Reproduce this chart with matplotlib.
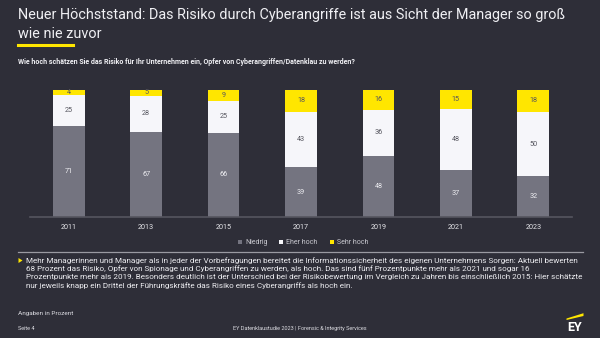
import matplotlib
matplotlib.use("Agg")
import matplotlib.pyplot as plt
from matplotlib.patches import Polygon
from matplotlib.lines import Line2D

years = ["2011", "2013", "2015", "2017", "2019", "2021", "2023"]
niedrig = [71, 67, 66, 39, 48, 37, 32]
eher_hoch = [25, 28, 25, 43, 36, 48, 50]
sehr_hoch = [4, 5, 9, 18, 16, 15, 18]
series_names = ["Niedrig", "Eher hoch", "Sehr hoch"]

title_lines = ["Neuer Höchststand: Das Risiko durch Cyberangriffe ist aus Sicht der Manager so groß",
               "wie nie zuvor"]
subtitle = "Wie hoch schätzen Sie das Risiko für Ihr Unternehmen ein, Opfer von Cyberangriffen/Datenklau zu werden?"
body_lines = [
    "Mehr Managerinnen und Manager als in jeder der Vorbefragungen bereitet die Informationssicherheit des eigenen Unternehmens Sorgen: Aktuell bewerten",
    "68 Prozent das Risiko, Opfer von Spionage und Cyberangriffen zu werden, als hoch. Das sind fünf Prozentpunkte mehr als 2021 und sogar 16",
    "Prozentpunkte mehr als 2019. Besonders deutlich ist der Unterschied bei der Risikobewertung im Vergleich zu Jahren bis einschließlich 2015: Hier schätzte",
    "nur jeweils knapp ein Drittel der Führungskräfte das Risiko eines Cyberangriffs als hoch ein.",
]
note = "Angaben in Prozent"
page = "Seite 4"
footer = "EY Datenklaustudie 2023 | Forensic & Integrity Services"

BG = "#2e2e38"
GRAY = "#747480"
WHITE = "#f6f6fa"
YELLOW = "#ffe600"
TXT = "#e6e6ea"

plt.rcParams["font.family"] = ["Roboto", "DejaVu Sans"]

W, H = 600, 338
fig = plt.figure(figsize=(W / 100, H / 100), dpi=100, facecolor=BG)

def fx(x):
    return x / W

def fy(y):
    return 1 - y / H

# axes
ax_l, ax_r, ax_b, ax_t = 30, 572, 217, 89.5
ax = fig.add_axes([fx(ax_l), fy(ax_b), fx(ax_r - ax_l), (ax_b - ax_t) / H])
ax.set_facecolor(BG)
x = list(range(len(years)))
bw = 0.41
ax.bar(x, niedrig, bw, color=GRAY, label=series_names[0], zorder=2)
ax.bar(x, eher_hoch, bw, bottom=niedrig, color=WHITE, label=series_names[1], zorder=2)
bot3 = [a + b for a, b in zip(niedrig, eher_hoch)]
ax.bar(x, sehr_hoch, bw, bottom=bot3, color=YELLOW, label=series_names[2], zorder=2)
for i in x:
    ax.text(i, niedrig[i] / 2, str(niedrig[i]), ha="center", va="center", fontsize=5.2, color="#eeeef2")
    ax.text(i, niedrig[i] + eher_hoch[i] / 2, str(eher_hoch[i]), ha="center", va="center", fontsize=5.2, color="#55555e")
    ax.text(i, bot3[i] + sehr_hoch[i] / 2, str(sehr_hoch[i]), ha="center", va="center", fontsize=5.2, color="#55555e")
ax.set_xlim(-0.5, len(years) - 0.5)
ax.set_ylim(0, 100)
for s in ["top", "right", "left"]:
    ax.spines[s].set_visible(False)
ax.spines["bottom"].set_color("#55555f")
ax.spines["bottom"].set_linewidth(1.2)
ax.set_yticks([])
ax.set_xticks(x)
ax.set_xticklabels(years, fontsize=5.2, color=TXT)
ax.tick_params(axis="x", length=0, pad=5)

# legend
leg_items = [(239.5, GRAY, series_names[0]), (280.5, WHITE, series_names[1]), (331.5, YELLOW, series_names[2])]
for lx, c, name in leg_items:
    fig.patches.append(plt.Rectangle((fx(lx - 2), fy(244.3)), 4 / W, 4 / H, transform=fig.transFigure,
                                     facecolor=c, edgecolor="none"))
    fig.text(fx(lx + 5.5), fy(242.5), name, fontsize=5.0, color="#c8c8cf", va="center", ha="left")

# title
fig.text(fx(18), fy(15.5), title_lines[0], fontsize=10.35, color="#f0f0f4", va="center", ha="left")
fig.text(fx(18), fy(33.5), title_lines[1], fontsize=10.35, color="#f0f0f4", va="center", ha="left")
fig.add_artist(Line2D([fx(18), fx(73)], [fy(44.5), fy(44.5)], color=YELLOW, lw=2.2))
fig.text(fx(18), fy(62.5), subtitle, fontsize=5.0, color="#f0f0f4", va="center", ha="left", weight="bold")

# separator
fig.add_artist(Line2D([fx(18), fx(583)], [fy(252), fy(252)], color="#9a9aa2", lw=0.9))

# bullet
fig.add_artist(Polygon([[fx(18.5), fy(258)], [fx(18.5), fy(263)], [fx(22.5), fy(260.5)]],
                       closed=True, facecolor=YELLOW, edgecolor="none", transform=fig.transFigure))
for i, line in enumerate(body_lines):
    fig.text(fx(26.5), fy(260.3 + 8.6 * i), line, fontsize=5.85, color="#ececf0", va="center", ha="left")

fig.text(fx(18), fy(313), note, fontsize=4.6, color="#dcdce2", va="center", ha="left")
fig.text(fx(18), fy(328.5), page, fontsize=4.0, color="#dcdce2", va="center", ha="left")
fig.text(fx(300), fy(328.5), footer, fontsize=4.0, color="#dcdce2", va="center", ha="center")

# EY logo
fig.add_artist(Polygon([[fx(566.5), fy(318.5)], [fx(583.5), fy(313.2)], [fx(583.5), fy(316.0)], [fx(566.5), fy(320.0)]],
                       closed=True, facecolor=YELLOW, edgecolor="none", transform=fig.transFigure))
fig.text(fx(575), fy(327.5), "EY", fontsize=9, color="#ffffff", va="center", ha="center", weight="bold")

fig.savefig("out.png", dpi=100, facecolor=BG)
